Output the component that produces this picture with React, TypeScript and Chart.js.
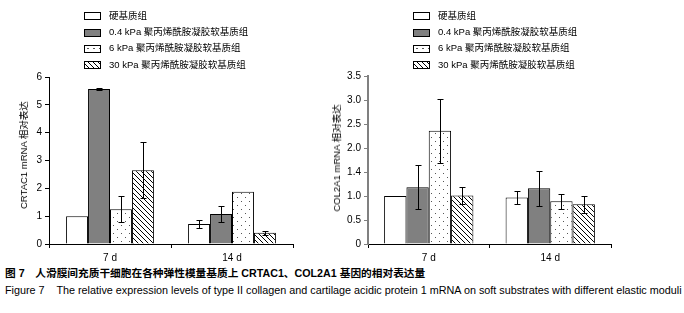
import React, { useEffect, useRef } from "react";
import { Chart, registerables } from "chart.js";

Chart.register(...registerables);

const categories = ["7 d", "14 d"];
const seriesNames = [
  "硬基质组",
  "0.4 kPa 聚丙烯酰胺凝胶软基质组",
  "6 kPa 聚丙烯酰胺凝胶软基质组",
  "30 kPa 聚丙烯酰胺凝胶软基质组",
];

// CRTAC1 (left)
const crtacHard = [1.0, 0.72];
const crtac04 = [5.57, 1.08];
const crtac6 = [1.25, 1.88];
const crtac30 = [2.65, 0.4];
const crtacHardErr = [0, 0.13];
const crtac04Err = [0.03, 0.3];
const crtac6Err = [0.47, 0];
const crtac30Err = [1.0, 0.06];

// COL2A1 (right)
const colHard = [1.0, 0.97];
const col04 = [1.18, 1.16];
const col6 = [2.36, 0.89];
const col30 = [1.01, 0.83];
const colHardErr = [0.01, 0.14];
const col04Err = [0.46, 0.37];
const col6Err = [0.67, 0.16];
const col30Err = [0.18, 0.18];

const leftTicks = ["0", "1", "2", "3", "4", "5", "6"];
const rightTicks = ["0", "0.5", "1.0", "1.4", "2.0", "2.5", "3.0", "3.5"];

const LATIN = "'Liberation Sans', Arial, 'Noto Sans CJK SC', sans-serif";

function makeDots(): CanvasPattern | string {
  const c = document.createElement("canvas");
  c.width = 8;
  c.height = 8;
  const x = c.getContext("2d")!;
  x.fillStyle = "#ffffff";
  x.fillRect(0, 0, 8, 8);
  x.fillStyle = "#555555";
  x.fillRect(1, 1, 1, 1);
  x.fillRect(5, 5, 1, 1);
  return x.createPattern(c, "repeat") || "#fff";
}

function makeHatch(): CanvasPattern | string {
  const s = 5;
  const c = document.createElement("canvas");
  c.width = s;
  c.height = s;
  const x = c.getContext("2d")!;
  x.fillStyle = "#ffffff";
  x.fillRect(0, 0, s, s);
  x.strokeStyle = "#000000";
  x.lineWidth = 1;
  x.beginPath();
  x.moveTo(-1, -1);
  x.lineTo(s + 1, s + 1);
  x.moveTo(-1, s - 1);
  x.lineTo(1, s + 1);
  x.moveTo(s - 1, -1);
  x.lineTo(s + 1, 1);
  x.stroke();
  return x.createPattern(c, "repeat") || "#fff";
}

const errorBarPlugin = {
  id: "errorBars",
  afterDatasetsDraw(chart: any) {
    const ctx = chart.ctx;
    const yScale = chart.scales.y;
    ctx.save();
    ctx.strokeStyle = "#000";
    ctx.lineWidth = 1;
    chart.data.datasets.forEach((ds: any, i: number) => {
      const meta = chart.getDatasetMeta(i);
      meta.data.forEach((bar: any, j: number) => {
        const e = ds.err ? ds.err[j] : 0;
        if (!e) return;
        const v = ds.data[j];
        const yt = Math.round(yScale.getPixelForValue(v + e)) + 0.5;
        const yb = Math.round(yScale.getPixelForValue(v - e)) + 0.5;
        const x = Math.round(bar.x) + 0.5;
        ctx.beginPath();
        ctx.moveTo(x, yt);
        ctx.lineTo(x, yb);
        ctx.moveTo(x - 3, yt);
        ctx.lineTo(x + 3, yt);
        ctx.moveTo(x - 3, yb);
        ctx.lineTo(x + 3, yb);
        ctx.stroke();
      });
    });
    ctx.restore();
  },
};

type Cfg = {
  values: number[][];
  errs: number[][];
  max: number;
  step: number;
  tickLabels: string[];
  yWidth: number;
  padTop: number;
  padRight: number;
  catPct: number;
  yBorderColor: string;
  yBorderWidth: number;
};

function BarChart({ cfg }: { cfg: Cfg }) {
  const ref = useRef<HTMLCanvasElement>(null);
  useEffect(() => {
    const fills = ["#ffffff", "#808080", makeDots(), makeHatch()];
    const chart = new Chart(ref.current!, {
      type: "bar",
      data: {
        labels: categories,
        datasets: cfg.values.map((vals, i) => ({
          label: seriesNames[i],
          data: vals,
          err: cfg.errs[i],
          backgroundColor: fills[i] as any,
          borderColor: "#000",
          borderWidth: 1,
          barPercentage: 1.0,
          categoryPercentage: cfg.catPct,
        })) as any,
      },
      options: {
        animation: false,
        responsive: false,
        maintainAspectRatio: false,
        layout: { padding: { top: cfg.padTop, right: cfg.padRight, left: 0, bottom: 0 } },
        plugins: { legend: { display: false }, tooltip: { enabled: false } },
        scales: {
          x: {
            offset: true,
            grid: {
              offset: true,
              drawOnChartArea: false,
              drawTicks: true,
              tickLength: 4,
              color: "#000",
            },
            border: { color: "#000", width: 1 },
            ticks: {
              color: "#000",
              padding: 4,
              font: { family: LATIN, size: 10 },
            },
            afterFit: (s: any) => {
              s.height = 18;
            },
          },
          y: {
            min: 0,
            max: cfg.max,
            grid: {
              drawOnChartArea: false,
              drawTicks: true,
              tickLength: 4,
              color: cfg.yBorderColor,
            },
            border: { color: cfg.yBorderColor, width: cfg.yBorderWidth },
            ticks: {
              stepSize: cfg.step,
              color: "#000",
              padding: 3,
              font: { family: LATIN, size: 10 },
              callback: (_v: any, idx: number) => cfg.tickLabels[idx],
            },
            afterFit: (s: any) => {
              s.width = cfg.yWidth;
            },
          },
        },
      },
      plugins: [errorBarPlugin],
    });
    return () => chart.destroy();
  }, []);
  return <canvas ref={ref} width={342} height={262} style={{ display: "block" }} />;
}

const swatchStyles: React.CSSProperties[] = [
  { background: "#fff" },
  { background: "#808080" },
  {
    background: "#fff",
    backgroundImage: "radial-gradient(circle, #555 0.6px, transparent 0.9px)",
    backgroundSize: "6px 5px",
  },
  {
    background:
      "repeating-linear-gradient(45deg, #fff 0px, #fff 2.5px, #000 2.5px, #000 3.5px)",
  },
];

function Legend({ left, top, textLeft }: { left: number; top: number; textLeft: number }) {
  return (
    <div style={{ position: "absolute", left: 0, top: 0 }}>
      {seriesNames.map((n, i) => (
        <React.Fragment key={i}>
          <div
            style={{
              position: "absolute",
              left,
              top: top + i * 16.3 - 3.5,
              width: 15,
              height: 6,
              border: "1px solid #000",
              boxSizing: "content-box",
              ...swatchStyles[i],
            }}
          />
          <div
            style={{
              position: "absolute",
              left: textLeft,
              top: top + i * 16.3 - 7,
              fontFamily: LATIN,
              fontSize: 9.5,
              lineHeight: "14px",
              whiteSpace: "nowrap",
              color: "#000",
            }}
          >
            {n}
          </div>
        </React.Fragment>
      ))}
    </div>
  );
}

function YTitle({ cx, cy, text }: { cx: number; cy: number; text: string }) {
  return (
    <div
      style={{
        position: "absolute",
        left: cx,
        top: cy,
        transform: "translate(-50%, -50%) rotate(-90deg)",
        fontFamily: LATIN,
        fontSize: 9.5,
        whiteSpace: "nowrap",
        color: "#000",
      }}
    >
      {text}
    </div>
  );
}

export default function App() {
  const leftCfg: Cfg = {
    values: [crtacHard, crtac04, crtac6, crtac30],
    errs: [crtacHardErr, crtac04Err, crtac6Err, crtac30Err],
    max: 6,
    step: 1,
    tickLabels: leftTicks,
    yWidth: 49,
    padTop: 77,
    padRight: 49,
    catPct: 0.72,
    yBorderColor: "#000",
    yBorderWidth: 1,
  };
  const rightCfg: Cfg = {
    values: [colHard, col04, col6, col30],
    errs: [colHardErr, col04Err, col6Err, col30Err],
    max: 3.5,
    step: 0.5,
    tickLabels: rightTicks,
    yWidth: 26,
    padTop: 76,
    padRight: 73,
    catPct: 0.735,
    yBorderColor: "#808080",
    yBorderWidth: 2,
  };
  return (
    <div
      style={{
        position: "fixed",
        left: 0,
        top: 0,
        width: 684,
        height: 313,
        background: "#fff",
        overflow: "hidden",
      }}
    >
      <div style={{ position: "absolute", left: 0, top: 0 }}>
        <BarChart cfg={leftCfg} />
      </div>
      <div style={{ position: "absolute", left: 342, top: 0 }}>
        <BarChart cfg={rightCfg} />
      </div>
      <Legend left={84} top={15.7} textLeft={109} />
      <Legend left={413} top={15.7} textLeft={438} />
      <YTitle cx={23} cy={155} text="CRTAC1 mRNA 相对表达" />
      <YTitle cx={336} cy={158} text="COL2A1 mRNA 相对表达" />
      <div
        style={{
          position: "absolute",
          left: 5,
          top: 267,
          fontFamily: LATIN,
          fontSize: 10.7,
          fontWeight: "bold",
          whiteSpace: "pre",
          color: "#000",
          lineHeight: "13px",
        }}
      >
        {"图 7　人滑膜间充质干细胞在各种弹性模量基质上 CRTAC1、COL2A1 基因的相对表达量"}
      </div>
      <div
        style={{
          position: "absolute",
          left: 5,
          top: 284,
          fontFamily: LATIN,
          fontSize: 10.8,
          whiteSpace: "pre",
          color: "#000",
          lineHeight: "13px",
        }}
      >
        {"Figure 7    The relative expression levels of type II collagen and cartilage acidic protein 1 mRNA on soft substrates with different elastic moduli"}
      </div>
    </div>
  );
}
